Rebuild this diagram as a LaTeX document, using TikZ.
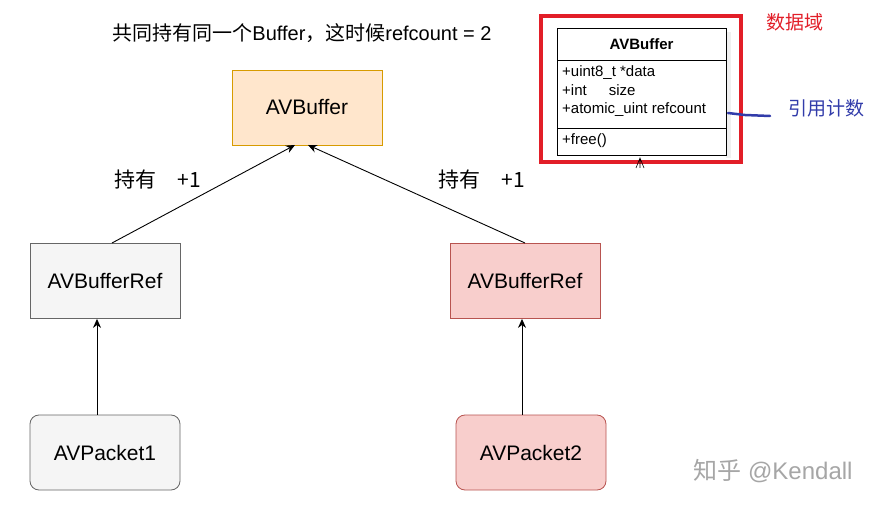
\documentclass[tikz,border=0pt]{standalone}
\usepackage{fontspec}
\setmainfont{Liberation Sans}
\newfontfamily\cjk{Noto Sans CJK SC}
\usetikzlibrary{arrows.meta}
\definecolor{penblue}{RGB}{50,60,170}
\begin{document}
\begin{tikzpicture}[x=1pt,y=-1pt,
 box/.style={draw,minimum width=150pt,minimum height=75pt,font=\fontsize{21}{24}\selectfont,line width=0.8pt},
 arr/.style={-{Stealth[length=9pt,width=8pt]},line width=0.9pt},
 lbl/.style={font=\fontsize{21}{24}\selectfont\cjk},
 small/.style={font=\fontsize{15}{17}\selectfont,anchor=west,inner sep=0pt}]
\useasboundingbox (0,0) rectangle (886,510);
\fill[white] (0,0) rectangle (886,510);
\node[box,fill={rgb,255:red,255;green,230;blue,204},draw={rgb,255:red,215;green,155;blue,0}] (buf) at (307,107.5) {AVBuffer};
\node[box,fill={rgb,255:red,245;green,245;blue,245},draw={rgb,255:red,102;green,102;blue,102}] (refL) at (105,281) {AVBufferRef};
\node[box,fill={rgb,255:red,248;green,206;blue,204},draw={rgb,255:red,184;green,84;blue,80}] (refR) at (525,281) {AVBufferRef};
\node[box,rounded corners=9pt,fill={rgb,255:red,245;green,245;blue,245},draw={rgb,255:red,102;green,102;blue,102}] (p1) at (105,452.5) {AVPacket1};
\node[box,rounded corners=9pt,fill={rgb,255:red,248;green,206;blue,204},draw={rgb,255:red,184;green,84;blue,80}] (p2) at (531,452.5) {AVPacket2};
\coordinate (tL) at (112,243); \coordinate (tR) at (525,243);
\coordinate (hL) at (295,145); \coordinate (hR) at (308,145);
\draw[arr] (tL) -- (hL);
\draw[arr] (tR) -- (hR);
\draw[arr] (p1.north -| 97,0) -- (refL.south -| 97,0);
\draw[arr] (p2.north -| 522,0) -- (refR.south -| 522,0);
\node[lbl] (l1) at (158,180) {持有\quad +1};
\node[lbl] (l2) at (482,180) {持有\quad +1};
\node[font=\fontsize{20}{24}\selectfont] (title) at (302,33) {{\cjk 共同持有同一个}Buffer{\cjk ，这时候}refcount = 2};
% class box
\node[draw={rgb,255:red,226;green,30;blue,40},line width=3.5pt,minimum width=200pt,minimum height=146pt] (red) at (641,89) {};
\fill[gray!12] (726,32) rectangle (731,158);
\draw[line width=0.8pt,fill=white] (557,28) rectangle (726,155);
\draw[line width=0.8pt] (557,60) -- (726,60) (557,128) -- (726,128);
\node[font=\bfseries\fontsize{15}{17}\selectfont] (cls) at (641.5,44) {AVBuffer};
\node[small] (a1) at (562,73) {+uint8\_t *data};
\node[small] (a2) at (562,90) {+int\hspace{22pt}size};
\node[small] (a3) at (562,110) {+atomic\_uint refcount};
\node[small] (a4) at (562,141) {+free()};
\node[font=\fontsize{19}{22}\selectfont\cjk,text={rgb,255:red,226;green,30;blue,40}] (dom) at (795,22) {数据域};
\node[font=\fontsize{19}{22}\selectfont\cjk,text=penblue] (rc) at (826,108) {引用计数};
\draw[line width=2.5pt,penblue,line cap=round] (728,113) -- (745,115) -- (770,116);
\draw[line width=0.6pt] (636,168) -- (640,158) -- (644,168) (640,158) -- (640,168);
\node[font=\fontsize{24}{28}\selectfont,text=gray!70] (wm) at (773,471) {{\cjk 知乎} @Kendall};
\end{tikzpicture}
\end{document}
